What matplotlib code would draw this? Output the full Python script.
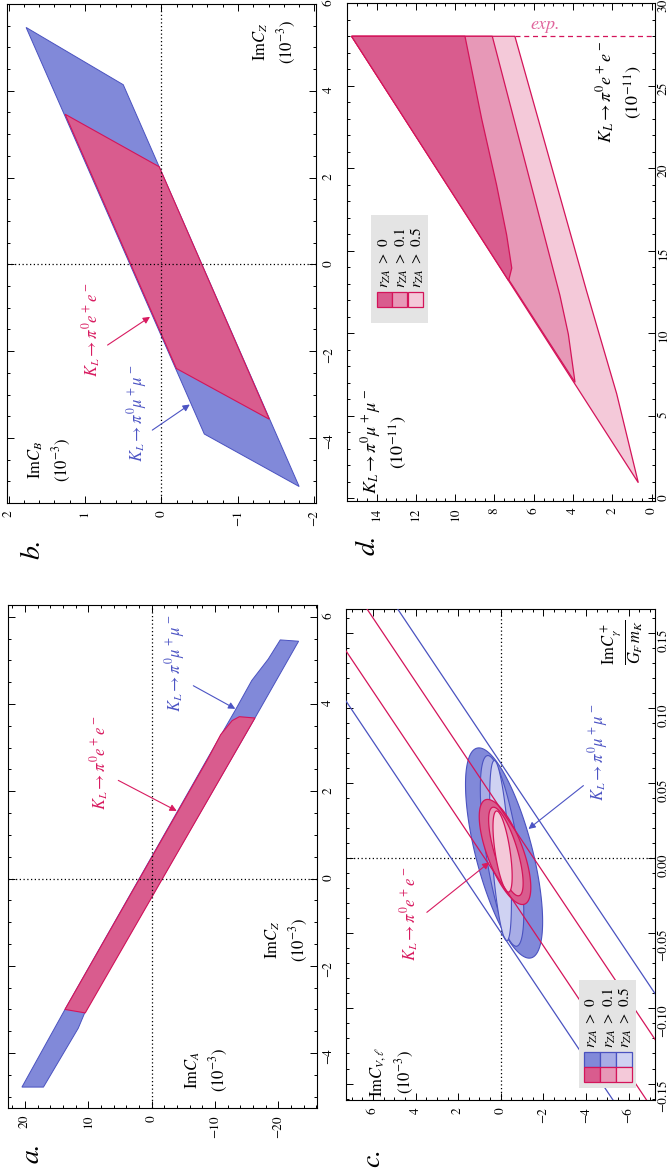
import numpy as np
import matplotlib.pyplot as plt
from matplotlib.ticker import MultipleLocator, FuncFormatter
from matplotlib.patches import Rectangle

plt.rcParams['font.family'] = ['STIXGeneral', 'DejaVu Serif']
plt.rcParams['mathtext.fontset'] = 'stix'

BLUE = '#8189d9'
BLUE_MID = '#a8ade6'
BLUE_LIGHT = '#cfd2f2'
BLUE_EDGE = '#4a52c0'
PINK = '#d95c8e'
PINK_MID = '#e798b7'
PINK_LIGHT = '#f4c9d9'
PINK_EDGE = '#d4145a'
PINK_TEXT = '#d81b60'
BLUE_TEXT = '#4c54c4'

# ---- a. ImC_Z (x) vs ImC_A (y), units 1e-3
a_mumu_x = [5.47, 5.44, 3.68, -3.05, -3.43, -4.78, -4.78, -3.0, 2.75, 3.85, 4.54, 5.03]
a_mumu_y = [-20.3, -23.2, -16.3, 10.5, 11.6, 17.1, 20.5, 13.7, -8.8, -13.16, -15.8, -18.4]
a_ee_x = [3.68, -3.08, -3.0, 2.75, 3.3, 3.62, 3.71]
a_ee_y = [-16.3, 10.5, 13.7, -8.9, -10.9, -12.7, -13.84]

# ---- b. ImC_Z (x) vs ImC_B (y), units 1e-3
b_mumu_x = [5.46, 4.14, -5.12, -3.91]
b_mumu_y = [1.77, 0.50, -1.80, -0.56]
b_ee_x = [3.46, 2.25, -3.57, -2.40]
b_ee_y = [1.26, 0.03, -1.41, -0.195]

# ---- c. ImC_gamma+/(G_F m_K) (x) vs ImC_V (y)
c_band_slope = 0.0212
c_band_offset = [0.0634, 0.0329, -0.0159, -0.0493]
c_band_color = [BLUE_EDGE, PINK_EDGE, PINK_EDGE, BLUE_EDGE]
# nested regions for r_ZA > 0, 0.1, 0.5
c_mumu_xc = [0.0035, 0.0049, 0.0051]
c_mumu_yc = [-0.155, -0.06, 0.01]
c_mumu_dx = [0.070, 0.0635, 0.060]
c_mumu_dy = [1.81, 1.02, 0.51]
c_mumu_phase = [0.86, 0.86, 0.96]
c_ee_xc = [0.0042, 0.0045, 0.0045]
c_ee_yc = [-0.20, -0.24, -0.085]
c_ee_dx = [0.035, 0.0295, 0.027]
c_ee_dy = [1.21, 0.81, 0.45]
c_ee_phase = [0.83, 0.77, 0.91]

# ---- d. BR(K_L -> pi0 e+e-) (x) vs BR(K_L -> pi0 mu+mu-) (y), units 1e-11
d_exp_limit = 28.0
d_light_x = [28.0, 0.94, 6.33, 12.55, 28.0]
d_light_y = [15.27, 0.68, 1.78, 3.31, 6.96]
d_mid_x = [28.0, 7.02, 9.94, 12.3, 28.0]
d_mid_y = [15.27, 3.90, 4.24, 4.67, 8.11]
d_dark_x = [28.0, 13.19, 13.95, 15.96, 18.98, 22.99, 28.0]
d_dark_y = [15.27, 7.28, 7.12, 7.38, 7.89, 8.65, 9.50]

legend_labels = [r'$r_{ZA}\ >\ 0$', r'$r_{ZA}\ >\ 0.1$', r'$r_{ZA}\ >\ 0.5$']


def minus(fmt):
    return FuncFormatter(lambda v, pos: (fmt % v).replace('-', '\u2212'))


def frame(ax, xlim, ylim, xmaj, xmin, ymaj, ymin, xfmt='%g', yfmt='%g', pad=5):
    # page turned by 90 degrees: x runs up the panel, y runs right-to-left
    ax.set_ylim(*xlim)
    ax.set_xlim(ylim[1], ylim[0])
    ax.yaxis.set_major_locator(MultipleLocator(xmaj))
    ax.yaxis.set_minor_locator(MultipleLocator(xmin))
    ax.xaxis.set_major_locator(MultipleLocator(ymaj))
    ax.xaxis.set_minor_locator(MultipleLocator(ymin))
    ax.yaxis.set_major_formatter(minus(xfmt))
    ax.xaxis.set_major_formatter(minus(yfmt))
    ax.tick_params(which='both', direction='in', top=True, bottom=True,
                   left=True, right=True, labelleft=False, labelright=True,
                   labelbottom=True, labeltop=False, width=0.7)
    ax.tick_params(which='major', length=5, labelsize=9.5)
    ax.tick_params(axis='y', which='major', pad=pad)
    ax.tick_params(axis='x', which='major', pad=5)
    ax.tick_params(which='minor', length=2.5)
    ax.tick_params(axis='both', labelrotation=90)
    for s in ax.spines.values():
        s.set_linewidth(0.8)


def rtext(ax, y, x, s, color, size=12, **kw):
    ax.text(y, x, s, color=color, fontsize=size, rotation=90,
            ha='center', va='bottom', **kw)


def arrow(ax, tail, head, color):
    ax.annotate('', xy=head, xytext=tail,
                arrowprops=dict(arrowstyle='-|>', color=color, lw=0.8,
                                mutation_scale=10, shrinkA=0, shrinkB=0))


def axis_label(ax, fx, fy, s, size=12):
    ax.text(fx, fy, s, transform=ax.transAxes, rotation=90, fontsize=size,
            ha='center', va='center', multialignment='center', linespacing=1.35)


def ring(xc, yc, dx, dy, phase):
    t = np.linspace(0, 2 * np.pi, 240)
    return yc + dy * np.cos(t), xc + dx * np.cos(t + phase)


def legend(ax, x0, y0, w, h, rows, tx, ty):
    ax.add_patch(Rectangle((x0, y0), w, h, transform=ax.transAxes,
                           facecolor='#e4e4e4', edgecolor='none', zorder=5))
    for (bx, by, bw, bh, fc, ec) in rows:
        ax.add_patch(Rectangle((bx, by), bw, bh, transform=ax.transAxes,
                               facecolor=fc, edgecolor=ec, lw=0.9, zorder=6))
    for fx, s in zip(tx, legend_labels):
        ax.text(fx, ty, s, transform=ax.transAxes, rotation=90, fontsize=11,
                ha='center', va='bottom', zorder=7)


fig = plt.figure(figsize=(6.72, 11.75), dpi=100)
ax_b = fig.add_axes([0.0104, 0.5719, 0.4598, 0.4247])
ax_a = fig.add_axes([0.0119, 0.0570, 0.4598, 0.4281])
ax_d = fig.add_axes([0.5159, 0.5739, 0.4588, 0.4233])
ax_c = fig.add_axes([0.5144, 0.0638, 0.4603, 0.4179])

# ---------------- a
frame(ax_a, (-5.26, 6.27), (-26.1, 22.7), 2, 0.5, 10, 2, pad=4)
ax_a.fill(a_mumu_y, a_mumu_x, facecolor=BLUE, edgecolor=BLUE_EDGE, lw=0.7, zorder=1)
ax_a.fill(a_ee_y, a_ee_x, facecolor=PINK, edgecolor=PINK_EDGE, lw=0.8, zorder=2)
ax_a.axhline(0, color='k', ls=(0, (1, 2)), lw=0.9, zorder=3)
ax_a.axvline(0, color='k', ls=(0, (1, 2)), lw=0.9, zorder=3)
rtext(ax_a, 8.17, 1.56, r'$K_L \rightarrow \pi^0 e^+ e^-$', PINK_TEXT)
arrow(ax_a, (5.28, 2.25), (-3.95, 1.55), PINK_TEXT)
rtext(ax_a, -3.68, 3.81, r'$K_L \rightarrow \pi^0 \mu^+ \mu^-$', BLUE_TEXT)
arrow(ax_a, (-6.57, 4.42), (-13.2, 3.89), BLUE_TEXT)
axis_label(ax_a, 0.903, 0.334, '$\\mathrm{Im}C_Z$\n$(10^{-3})$')
axis_label(ax_a, 0.644, 0.076, '$\\mathrm{Im}C_A$\n$(10^{-3})$')

# ---------------- b
frame(ax_b, (-5.5, 6.0), (-2.02, 2.02), 2, 0.5, 1, 0.2, pad=5)
ax_b.fill(b_mumu_y, b_mumu_x, facecolor=BLUE, edgecolor=BLUE_EDGE, lw=0.7, zorder=1)
ax_b.fill(b_ee_y, b_ee_x, facecolor=PINK, edgecolor=PINK_EDGE, lw=0.8, zorder=2)
ax_b.axhline(0, color='k', ls=(0, (1, 2)), lw=0.9, zorder=3)
ax_b.axvline(0, color='k', ls=(0, (1, 2)), lw=0.9, zorder=3)
rtext(ax_b, 0.906, -2.59, r'$K_L \rightarrow \pi^0 e^+ e^-$', PINK_TEXT)
arrow(ax_b, (0.705, -1.86), (0.15, -1.21), PINK_TEXT)
rtext(ax_b, 0.322, -4.55, r'$K_L \rightarrow \pi^0 \mu^+ \mu^-$', BLUE_TEXT)
arrow(ax_b, (0.12, -3.82), (-0.37, -3.23), BLUE_TEXT)
axis_label(ax_b, 0.867, 0.924, '$\\mathrm{Im}C_Z$\n$(10^{-3})$')
axis_label(ax_b, 0.139, 0.086, '$\\mathrm{Im}C_B$\n$(10^{-3})$')

# ---------------- c
frame(ax_c, (-0.161, 0.166), (-7.24, 7.28), 0.05, 0.01, 2, 0.5, xfmt='%.2f', pad=2)
ax_c.axhline(0, color='k', ls=(0, (1, 2)), lw=0.9, zorder=0.5)
ax_c.axvline(0, color='k', ls=(0, (1, 2)), lw=0.9, zorder=0.5)
fills_mumu = [BLUE, BLUE_MID, BLUE_LIGHT]
fills_ee = [PINK, PINK_MID, PINK_LIGHT]
for i in range(3):
    yy, xx = ring(c_mumu_xc[i], c_mumu_yc[i], c_mumu_dx[i], c_mumu_dy[i], c_mumu_phase[i])
    ax_c.fill(yy, xx, facecolor=fills_mumu[i], edgecolor=BLUE_EDGE, lw=0.8, zorder=1 + i * 0.1)
for i in range(3):
    yy, xx = ring(c_ee_xc[i], c_ee_yc[i], c_ee_dx[i], c_ee_dy[i], c_ee_phase[i])
    ax_c.fill(yy, xx, facecolor=fills_ee[i], edgecolor=PINK_EDGE, lw=0.9, zorder=2 + i * 0.1)
yspan = np.array([-8.0, 8.0])
for off, col in zip(c_band_offset, c_band_color):
    ax_c.plot(yspan, off + c_band_slope * yspan, color=col, lw=0.9, zorder=3)
rtext(ax_c, 4.25, -0.0685, r'$K_L \rightarrow \pi^0 e^+ e^-$', PINK_TEXT)
arrow(ax_c, (3.47, -0.036), (0.535, -0.0027), PINK_TEXT)
rtext(ax_c, -4.58, 0.0384, r'$K_L \rightarrow \pi^0 \mu^+ \mu^-$', BLUE_TEXT)
arrow(ax_c, (-3.88, 0.0484), (-1.30, 0.0195), BLUE_TEXT)
axis_label(ax_c, 0.8965, 0.933, r'$\frac{\mathrm{Im}C_\gamma^+}{G_F\, m_K}$', size=17)
axis_label(ax_c, 0.15, 0.057, '$\\mathrm{Im}C_{V,\\ell}$\n$(10^{-3})$')
cols = [0.7705, 0.822, 0.874]
sw = 0.0515
rows = []
for j in range(3):
    rows.append((cols[j], 0.0678, sw, 0.0306, fills_mumu[j], BLUE_EDGE))
    rows.append((cols[j], 0.0373, sw, 0.0306, fills_ee[j], PINK_EDGE))
legend(ax_c, 0.755, 0.024, 0.1836, 0.22, rows, [0.795, 0.852, 0.903], 0.106)

# ---------------- d
frame(ax_d, (-0.15, 30.0), (-0.17, 15.52), 5, 1, 2, 0.5, pad=2)
ax_d.fill(d_light_y, d_light_x, facecolor=PINK_LIGHT, edgecolor=PINK_EDGE, lw=0.9, zorder=1)
ax_d.fill(d_mid_y, d_mid_x, facecolor=PINK_MID, edgecolor=PINK_EDGE, lw=0.9, zorder=2)
ax_d.fill(d_dark_y, d_dark_x, facecolor=PINK, edgecolor=PINK_EDGE, lw=0.9, zorder=3)
ax_d.plot([d_light_y[-1], -0.17], [d_exp_limit, d_exp_limit], color=PINK_EDGE,
          ls=(0, (4, 3)), lw=0.9, zorder=3)
ax_d.text(5.43, 28.7, 'exp.', color='#e0649c', fontsize=13, style='italic',
          ha='center', va='center')
axis_label(ax_d, 0.883, 0.822, '$K_L \\rightarrow \\pi^0 e^+ e^-$\n$(10^{-11})$', size=13)
axis_label(ax_d, 0.121, 0.118, '$K_L \\rightarrow \\pi^0 \\mu^+ \\mu^-$\n$(10^{-11})$', size=13)
cols = [0.0973, 0.146, 0.198]
rows = [(cols[j], 0.39, 0.049, 0.03, fills_ee[j], PINK_EDGE) for j in range(3)]
legend(ax_d, 0.0788, 0.358, 0.184, 0.216, rows, [0.124, 0.178, 0.229], 0.427)

# panel letters
for fx, fy, s in [(0.0476, 0.0187, 'a.'), (0.0491, 0.5328, 'b.'),
                  (0.555, 0.0153, 'c.'), (0.5476, 0.5362, 'd.')]:
    fig.text(fx, fy, s, rotation=90, fontsize=20, style='italic',
             ha='center', va='center')

fig.savefig('out.png', dpi=100)
